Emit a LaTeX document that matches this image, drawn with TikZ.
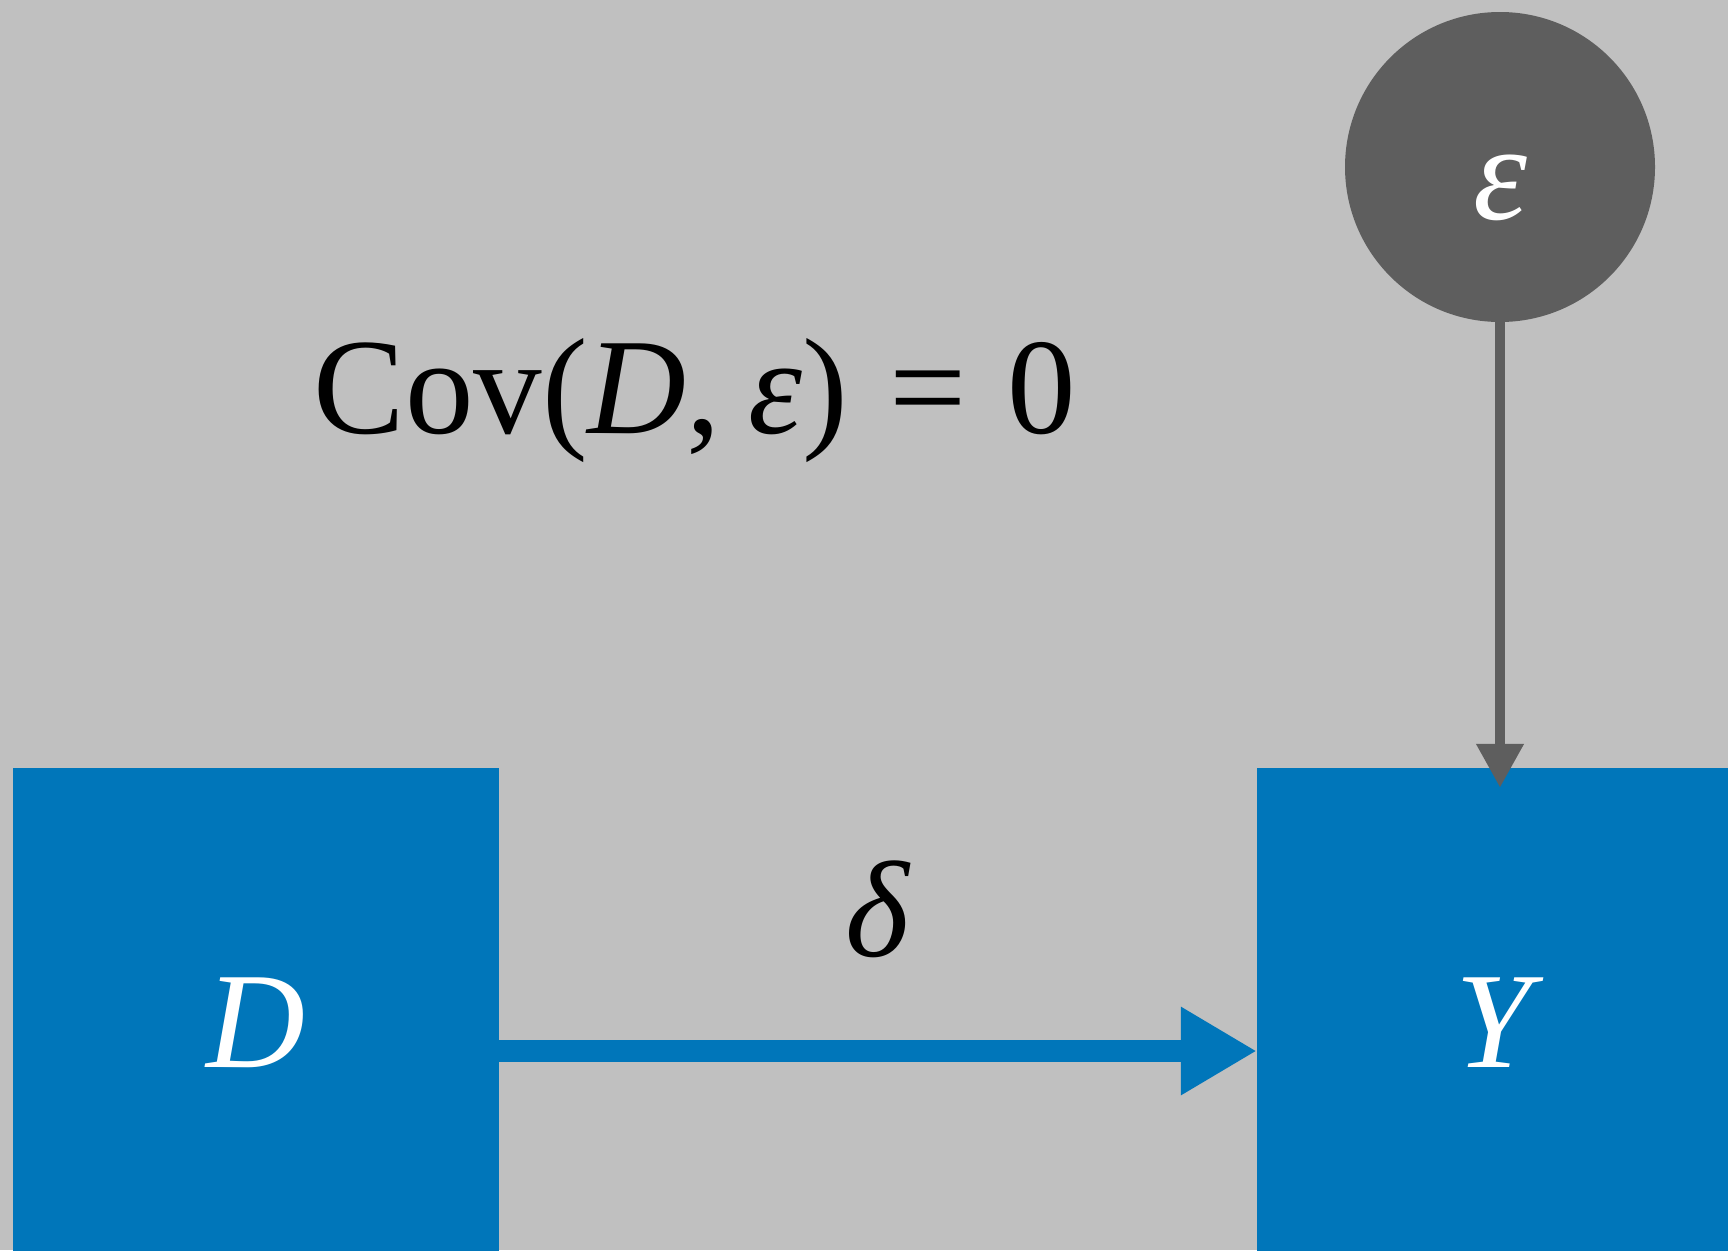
\documentclass[tikz,border=0pt]{standalone}
\usepackage{fontspec}
\setmainfont{LiberationSerif}[Extension=.ttf,UprightFont=*-Regular,
  ItalicFont=*-Italic,BoldFont=*-Bold,BoldItalicFont=*-BoldItalic]
\usetikzlibrary{arrows.meta,positioning,calc}
\definecolor{cBg}  {HTML}{C0C0C0}
\definecolor{cBlue}{HTML}{0076BA}
\definecolor{cDark}{HTML}{5E5E5E}
\tikzset{
  txt/.style   ={font=\fontsize{137pt}{164pt}\selectfont,inner sep=0pt},
  var/.style   ={txt,rectangle,fill=cBlue,text=white,minimum width=486pt,
                 minimum height=486pt,text height=112pt,text depth=0pt},
  err/.style   ={txt,circle,fill=cDark,text=white,minimum size=310pt,
                 text height=104pt,text depth=0pt},
  cause/.style ={-{Triangle[length=76pt,width=83pt]},draw=cBlue,line width=22pt},
  noise/.style ={-{Triangle[length=44pt,width=45pt]},draw=cDark,line width=10.5pt},
}
\begin{document}
\begin{tikzpicture}[x=1pt, y=-1pt]
\useasboundingbox (0,0) rectangle (1728,1250);
\clip (0,0) rectangle (1728,1250);
\fill[cBg] (0,0) rectangle (1728,1250);

% ===== variables ===========================================================
\node[var] (D) at (256,1011) {\textit{D}};
\node[var] (Y) at (1500,1011) {\textit{Y}};
\node[err] (eps) at (1500,167) {\textit{ε}};

% ===== assumption ==========================================================
\node[txt,anchor=base] (cov) at (695,433)
  {Cov(\textit{D},\hspace{0.2em}\textit{ε})\hspace{0.3em}=\hspace{0.3em}0};

% ===== edges ===============================================================
\draw[cause] ([yshift=-40pt]D.east) -- node[txt,above=82pt] (dlt) {\textit{δ}}
  ([yshift=-40pt]Y.west);
% the error arrow ends a little inside Y's top edge
\draw[noise] (eps.south) -- ([yshift=-20pt]Y.north);
\end{tikzpicture}
\end{document}
